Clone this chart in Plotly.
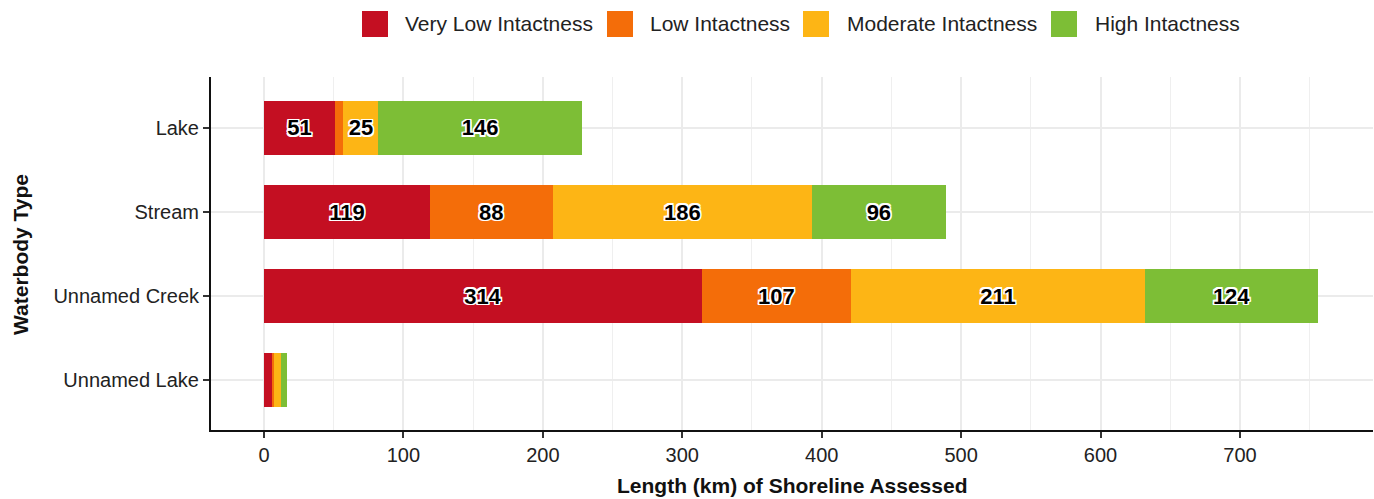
import plotly.graph_objects as go

categories = ["Lake", "Stream", "Unnamed Creek", "Unnamed Lake"]
series_names = ["Very Low Intactness", "Low Intactness", "Moderate Intactness", "High Intactness"]
very_low = [51, 119, 314, 6]
low = [6, 88, 107, 1.5]
moderate = [25, 186, 211, 4.5]
high = [146, 96, 124, 4.5]
x_ticks = [0, 100, 200, 300, 400, 500, 600, 700]
label_min = 20

colors = ["#C40F22", "#F46D09", "#FDB515", "#7DBE36"]
series_values = [very_low, low, moderate, high]

W, H = 1374, 499
L, R, T, B = 211, 1, 77, 69
pw, ph = W - L - R, H - T - B


def px(xp):
    return (xp - L) / pw


def py(yp):
    return (H - B - yp) / ph


FONT = "Liberation Sans, Arial, sans-serif"
outline = ", ".join(f"{dx}px {dy}px 0 #ffffff" for dx in (-1.5, 0, 1.5) for dy in (-1.5, 0, 1.5) if dx or dy)

fig = go.Figure()
for name, vals, col in zip(series_names, series_values, colors):
    fig.add_trace(go.Bar(
        y=categories, x=vals, name=name, orientation="h",
        marker=dict(color=col, line=dict(width=0)),
        width=0.65,
        text=[str(int(v)) if v >= label_min else "" for v in vals],
        texttemplate="%{text}",
        textposition="inside", insidetextanchor="middle", textangle=0,
        insidetextfont=dict(family=FONT, size=22, color="#000000", weight="bold", shadow=outline),
        showlegend=False, hoverinfo="x+name",
    ))

fig.update_layout(
    barmode="stack", width=W, height=H,
    margin=dict(l=L, r=R, t=T, b=B, autoexpand=False),
    plot_bgcolor="white", paper_bgcolor="white",
    font=dict(family=FONT, size=20, color="#222222"),
)
fig.update_xaxes(
    range=[-38.0, 795.4], tickvals=x_ticks, ticktext=[str(t) for t in x_ticks],
    showgrid=True, gridcolor="#EBEBEB", gridwidth=1.5, zeroline=False,
    minor=dict(dtick=50, tick0=0, showgrid=True, gridcolor="#EFEFEF", gridwidth=1, ticks=""),
    showline=True, linecolor="#111111", linewidth=2,
    ticks="outside", ticklen=6, tickwidth=1.5, tickcolor="#333333",
    tickfont=dict(size=20, color="#222222"), automargin=False,
)
fig.update_yaxes(
    type="category", categoryorder="array", categoryarray=categories,
    range=[3.595, -0.607],
    showgrid=True, gridcolor="#EBEBEB", gridwidth=1.5, zeroline=False,
    showline=True, linecolor="#111111", linewidth=2,
    ticks="outside", ticklen=6, tickwidth=1.5, tickcolor="#333333",
    tickfont=dict(size=20, color="#222222"), automargin=False,
)

# axis titles
fig.add_annotation(text="<b>Length (km) of Shoreline Assessed</b>", xref="paper", yref="paper",
                   x=px(792), y=py(486), xanchor="center", yanchor="middle", showarrow=False,
                   font=dict(size=21, color="#111111"))
fig.add_annotation(text="<b>Waterbody Type</b>", xref="paper", yref="paper",
                   x=px(20), y=py(255), xanchor="center", yanchor="middle", showarrow=False,
                   textangle=-90, font=dict(size=21, color="#111111"))

# legend
sq_x = [362, 607, 803, 1051]
txt_x = [403, 648, 845, 1093]
for name, col, sx, tx in zip(series_names, colors, sq_x, txt_x):
    fig.add_shape(type="rect", xref="paper", yref="paper",
                  x0=px(sx), x1=px(sx + 26), y0=py(37), y1=py(11),
                  fillcolor=col, line=dict(width=0))
    fig.add_annotation(text=name, xref="paper", yref="paper", x=px(tx), y=py(24),
                       xanchor="left", yanchor="middle", showarrow=False,
                       font=dict(size=21, color="#222222"))

fig.write_html("out.html", config={"displayModeBar": False},
               post_script="document.body.style.margin='0px';document.body.style.overflow='hidden';")
